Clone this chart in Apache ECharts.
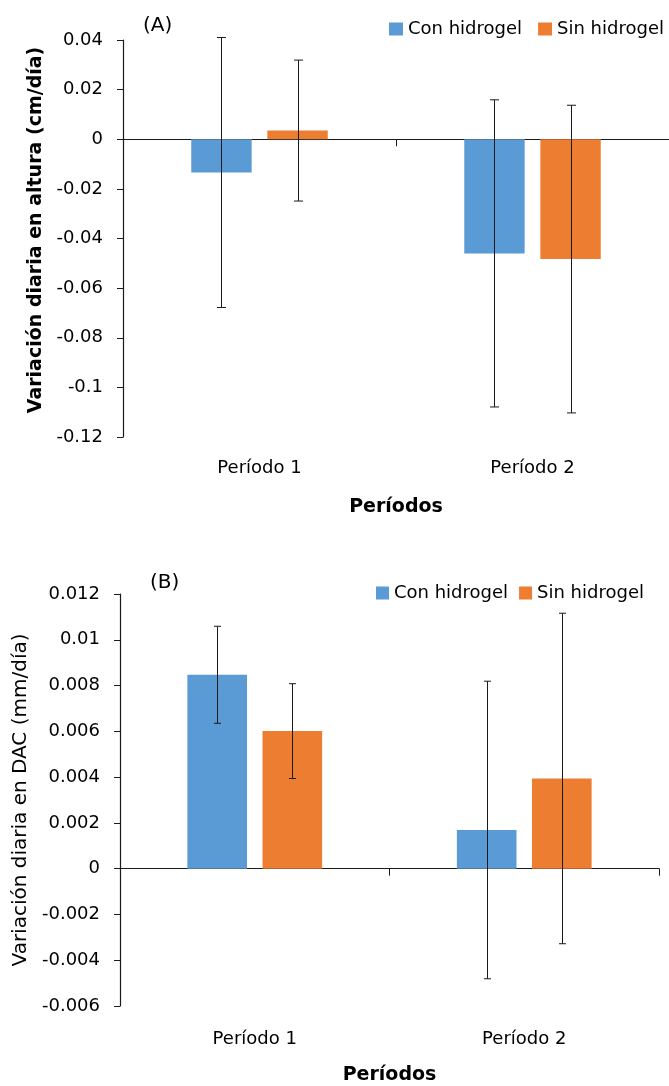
<!DOCTYPE html>
<html><head><meta charset="utf-8">
<script src="https://cdn.jsdelivr.net/npm/echarts@6/dist/echarts.min.js"></script>
<style>html,body{margin:0;padding:0;background:#fff}#c{width:669px;height:1086px}</style>
</head><body><div id="c"></div>
<script>
// ---- data ----
const categories = ['Período 1', 'Período 2'];
const seriesNames = ['Con hidrogel', 'Sin hidrogel'];
// Panel A: variación diaria en altura (cm/día)
const alturaCon = [-0.0134, -0.0460];
const alturaSin = [0.0035, -0.0483];
const alturaConErr = [0.0544, 0.0619];
const alturaSinErr = [0.0284, 0.0620];
// Panel B: variación diaria en DAC (mm/día)
const dacCon = [0.00847, 0.00169];
const dacSin = [0.00601, 0.00394];
const dacConErr = [0.00212, 0.00650];
const dacSinErr = [0.00207, 0.00722];
// axis ticks
const axisA = { min: -0.12, max: 0.04, interval: 0.02 };
const axisB = { min: -0.006, max: 0.012, interval: 0.002 };

// ---- styles ----
const FONT = 'DejaVu Sans';
const TXT = '#000';
const LINE = '#1a1a1a';
const BLUE = '#5B9BD5';
const ORANGE = '#ED7D31';
const CAT_GAP = 0.5;
const BAR_GAP = 0.26;

function fmt(v) { return String(parseFloat(v.toFixed(6))); }

function errRender(slot, capW) {
  return function (params, api) {
    const ci = api.value(0), m = api.value(1), e = api.value(2);
    const bw = api.size([1, 0])[0];
    const barW = bw * (1 - CAT_GAP) / (2 + BAR_GAP);
    const off = barW * (1 + BAR_GAP) / 2 * (slot === 0 ? -1 : 1);
    const c = api.coord([ci, m]);
    const x = Math.round(c[0] + off) + 0.5;
    const yHi = api.coord([ci, m + e])[1];
    const yLo = api.coord([ci, m - e])[1];
    const st = { stroke: LINE, lineWidth: 1 };
    return { type: 'group', children: [
      { type: 'line', shape: { x1: x, y1: yHi, x2: x, y2: yLo }, style: st },
      { type: 'line', shape: { x1: x - capW / 2, y1: yHi, x2: x + capW / 2, y2: yHi }, style: st },
      { type: 'line', shape: { x1: x - capW / 2, y1: yLo, x2: x + capW / 2, y2: yLo }, style: st }
    ]};
  };
}
function errData(means, errs) { return means.map((m, i) => [i, m, errs[i]]); }

function panel(gi, grid, axis, yName, yBold, yNameGap, yPad, labelMargin, tickFs, xNameGap, capW, con, sin, conE, sinE) {
  const xLabelAxis = {
    type: 'category', gridIndex: gi, data: categories, position: 'bottom',
    axisLine: { show: false, onZero: false }, axisTick: { show: false },
    axisLabel: { fontFamily: FONT, fontSize: 18, color: TXT, margin: labelMargin },
    name: 'Períodos', nameLocation: 'middle', nameGap: xNameGap,
    nameTextStyle: { fontFamily: FONT, fontSize: 19, fontWeight: 'bold', color: TXT }
  };
  const xZeroAxis = {
    type: 'category', gridIndex: gi, data: categories, position: 'top',
    axisLine: { show: true, onZero: true, lineStyle: { color: LINE, width: 1.2 } },
    axisTick: { show: true, inside: true, length: 7, lineStyle: { color: LINE } },
    axisLabel: { show: false }
  };
  const yAxis = {
    type: 'value', gridIndex: gi, min: axis.min, max: axis.max, interval: axis.interval,
    splitLine: { show: false },
    axisLine: { show: true, lineStyle: { color: LINE, width: 1.2 } },
    axisTick: { show: true, length: 6, lineStyle: { color: LINE } },
    axisLabel: { fontFamily: FONT, fontSize: tickFs, color: TXT, margin: 20, formatter: fmt },
    name: yName, nameLocation: 'middle', nameGap: yNameGap,
    nameTextStyle: { fontFamily: FONT, fontSize: yBold ? 19 : 20, fontWeight: yBold ? 'bold' : 'normal', color: TXT, padding: yPad }
  };
  const xi = gi * 2;
  const series = [
    { name: seriesNames[0], type: 'bar', xAxisIndex: xi, yAxisIndex: gi, data: con,
      itemStyle: { color: BLUE }, barGap: (BAR_GAP * 100) + '%', barCategoryGap: (CAT_GAP * 100) + '%' },
    { name: seriesNames[1], type: 'bar', xAxisIndex: xi, yAxisIndex: gi, data: sin,
      itemStyle: { color: ORANGE }, barGap: (BAR_GAP * 100) + '%', barCategoryGap: (CAT_GAP * 100) + '%' },
    { type: 'custom', xAxisIndex: xi, yAxisIndex: gi, data: errData(con, conE), renderItem: errRender(0, capW), z: 5, silent: true },
    { type: 'custom', xAxisIndex: xi, yAxisIndex: gi, data: errData(sin, sinE), renderItem: errRender(1, capW), z: 5, silent: true }
  ];
  return { grid, xAxes: [xLabelAxis, xZeroAxis], yAxis, series };
}

const A = panel(0, { left: 123, top: 40, width: 550, height: 397 }, axisA,
  'Variación diaria en altura (cm/día)', true, 74, [0, 0, 0, 17], 22, 18, 61, 9,
  alturaCon, alturaSin, alturaConErr, alturaSinErr);
const B = panel(1, { left: 120, top: 594, width: 539, height: 414 }, axisB,
  'Variación diaria en DAC (mm/día)', false, 84, [0, 0, 0, 0], 24, 18, 60, 7,
  dacCon, dacSin, dacConErr, dacSinErr);

const legendBase = {
  data: seriesNames, icon: 'rect', itemWidth: 14, itemHeight: 13, itemGap: 16, padding: 0,
  textStyle: { fontFamily: FONT, fontSize: 18, color: TXT }, selectedMode: false
};

const chart = echarts.init(document.getElementById('c'), null, { renderer: 'canvas' });
chart.setOption({
  animation: false,
  backgroundColor: '#fff',
  title: [
    { text: '(A)', left: 143, top: 16, padding: 0, textStyle: { fontFamily: FONT, fontSize: 20, fontWeight: 'normal', color: TXT } },
    { text: '(B)', left: 150, top: 573, padding: 0, textStyle: { fontFamily: FONT, fontSize: 20, fontWeight: 'normal', color: TXT } }
  ],
  legend: [
    Object.assign({}, legendBase, { left: 389, top: 20 }),
    Object.assign({}, legendBase, { left: 376, top: 584, itemWidth: 13, itemGap: 11 })
  ],
  grid: [A.grid, B.grid],
  xAxis: [...A.xAxes, ...B.xAxes],
  yAxis: [A.yAxis, B.yAxis],
  series: [...A.series, ...B.series]
});
</script></body></html>
